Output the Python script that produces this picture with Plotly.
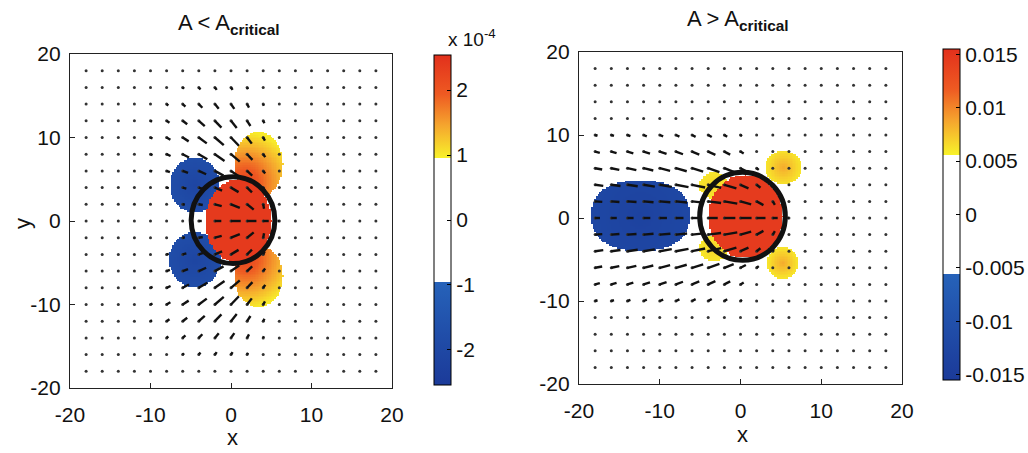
import numpy as np
import plotly.graph_objects as go

FONT = "Liberation Sans, Arial, sans-serif"

# ---------------- data ----------------
tick_vals = [-20, -10, 0, 10, 20]
tick_text = ["-20", "-10", "0", "10", "20"]
arrow_grid = [-18, -16, -14, -12, -10, -8, -6, -4, -2, 0, 2, 4, 6, 8, 10, 12, 14, 16, 18]

# left panel (values in units of 1e-4)
left_cbar_ticks = [-2, -1, 0, 1, 2]
left_cbar_text = ["-2", "-1", "0", "1", "2"]
left_zrange = [-2.54, 2.54]
left_white = [-0.96, 0.95]
# blobs: centre x, centre y, semi-axis x, semi-axis y, edge value, peak value, grad x, grad y, grad radius, shape exponent
left_blob_cx = [0.9, 3.4, 3.4, -4.5, -4.5]
left_blob_cy = [0.0, 6.8, -6.6, 4.3, -4.6]
left_blob_rx = [4.1, 3.0, 3.0, 3.1, 3.2]
left_blob_ry = [5.0, 3.9, 3.7, 3.3, 3.3]
left_blob_edge = [2.4, 1.0, 1.0, -1.6, -1.6]
left_blob_peak = [2.4, 2.3, 2.3, -2.1, -2.1]
left_blob_gx = [0.9, 1.8, 1.8, -4.5, -4.5]
left_blob_gy = [0.0, 4.6, -4.4, 4.3, -4.6]
left_blob_gr = [10.0, 6.0, 6.0, 5.0, 5.0]
left_blob_p = [2.0, 2.0, 2.0, 2.0, 2.0]
left_circle = [0.25, 0.1, 5.2]        # centre x, centre y, radius
# arrow field: ring focus x, envelope centre x, left width, right width, ring |y|, ring y width,
#              max length, core centre x, core radius, core weight, core focus x
left_flow = [10.0, -1.0, 7.0, 4.5, 9.0, 6.0, 1.5, 1.0, 4.0, 0.75, 4.0]

# right panel
right_cbar_ticks = [-0.015, -0.01, -0.005, 0, 0.005, 0.01, 0.015]
right_cbar_text = ["-0.015", "-0.01", "-0.005", "0", "0.005", "0.01", "0.015"]
right_zrange = [-0.0155, 0.0155]
right_white = [-0.0056, 0.0056]
right_blob_cx = [0.6, -12.4, -3.3, -3.3, 5.3, 5.2]
right_blob_cy = [0.2, 0.3, 3.9, -3.6, 6.1, -5.4]
right_blob_rx = [4.6, 6.1, 1.8, 1.8, 2.3, 1.9]
right_blob_ry = [5.0, 4.2, 1.6, 1.6, 2.0, 1.9]
right_blob_edge = [0.0145, -0.012, 0.006, 0.006, 0.006, 0.006]
right_blob_peak = [0.0145, -0.0135, 0.0068, 0.0068, 0.0085, 0.0085]
right_blob_gx = [0.6, -12.4, -3.3, -3.3, 5.3, 5.2]
right_blob_gy = [0.2, 0.3, 3.9, -3.6, 6.1, -5.4]
right_blob_gr = [10.0, 7.0, 2.0, 2.0, 2.3, 2.0]
right_blob_p = [2.0, 2.4, 2.0, 2.0, 2.0, 2.0]
right_circle = [0.25, 0.2, 5.3]
right_flow = [14.0, -4.0, 20.0, 4.5, 4.0, 5.5, 1.65, 1.0, 4.0, 0.6, 5.0]


# ---------------- build fields ----------------
gx = np.arange(-20, 20.001, 0.2)
GX, GY = np.meshgrid(gx, gx)


def field(cx, cy, rx, ry, edge, peak, gxs, gys, gr, pw):
    z = np.zeros_like(GX)
    for i in range(len(cx)):
        d = (np.abs(GX - cx[i]) / rx[i]) ** pw[i] + (np.abs(GY - cy[i]) / ry[i]) ** pw[i]
        inside = d <= 1
        g = np.clip(1 - np.hypot(GX - gxs[i], GY - gys[i]) / gr[i], 0, 1)
        val = edge[i] + (peak[i] - edge[i]) * g
        val = np.where(inside, val, 0)
        z = np.where(np.abs(val) > np.abs(z), val, z)
    return z


def arrows(flow):
    fx, ex, wl, wr, yo, wy, L, cx, cr, cw, cfx = flow
    sx, sy = [], []
    px, py = [], []
    for x in arrow_grid:
        for y in arrow_grid:
            w = wl if x < ex else wr
            m1 = np.exp(-((x - ex) / w) ** 2) * np.exp(-((abs(y) - yo) / wy) ** 2)
            a1 = np.arctan2(-y, fx - x)
            m2 = cw * np.exp(-((x - cx) ** 2 + y ** 2) / cr ** 2)
            a2 = np.arctan2(-y, cfx - x)
            u = m1 * np.cos(a1) + m2 * np.cos(a2)
            v = m1 * np.sin(a1) + m2 * np.sin(a2)
            m = np.hypot(u, v)
            if m > 1.0:
                u, v = u / m, v / m
                m = 1.0
            if L * m > 0.2:
                sx += [x, x + L * u, None]
                sy += [y, y + L * v, None]
            px.append(x)
            py.append(y)
    return sx, sy, px, py


def cscale(zr, wr):
    def t(v):
        return (v - zr[0]) / (zr[1] - zr[0])
    lo, hi = t(wr[0]), t(wr[1])
    span = 1 - hi
    return [
        [0.0, "#1b3a99"],
        [lo, "#2662b9"],
        [lo, "#ffffff"],
        [hi, "#ffffff"],
        [hi, "#f8f22a"],
        [hi + 0.32 * span, "#f5a52e"],
        [hi + 0.62 * span, "#ee5a22"],
        [1.0, "#e2301c"],
    ]


zl = field(left_blob_cx, left_blob_cy, left_blob_rx, left_blob_ry, left_blob_edge,
           left_blob_peak, left_blob_gx, left_blob_gy, left_blob_gr, left_blob_p)
zr = field(right_blob_cx, right_blob_cy, right_blob_rx, right_blob_ry, right_blob_edge,
           right_blob_peak, right_blob_gx, right_blob_gy, right_blob_gr, right_blob_p)

W, H = 1028, 453


def px2x(p):
    return p / W


def px2y(p):
    return 1 - p / H


fig = go.Figure()

cb_common = dict(thickness=17, thicknessmode="pixels", lenmode="fraction",
                 outlinewidth=1, outlinecolor="black", ticks="inside", ticklen=4,
                 tickcolor="black", tickfont=dict(size=21, family=FONT, color="#111"),
                 xanchor="left", yanchor="middle", xpad=0, ypad=0)

fig.add_trace(go.Heatmap(x=gx, y=gx, z=zl, zmin=left_zrange[0], zmax=left_zrange[1],
                         colorscale=cscale(left_zrange, left_white), xaxis="x", yaxis="y",
                         hoverinfo="skip",
                         colorbar=dict(x=px2x(434), y=px2y(220), len=330 / H,
                                       tickvals=left_cbar_ticks, ticktext=left_cbar_text,
                                       **cb_common)))
fig.add_trace(go.Heatmap(x=gx, y=gx, z=zr, zmin=right_zrange[0], zmax=right_zrange[1],
                         colorscale=cscale(right_zrange, right_white), xaxis="x2", yaxis="y2",
                         hoverinfo="skip",
                         colorbar=dict(x=px2x(943), y=px2y(214.5), len=331 / H,
                                       tickvals=right_cbar_ticks, ticktext=right_cbar_text,
                                       **cb_common)))

for flow, xa, ya in [(left_flow, "x", "y"), (right_flow, "x2", "y2")]:
    sx, sy, px, py = arrows(flow)
    fig.add_trace(go.Scatter(x=px, y=py, mode="markers", xaxis=xa, yaxis=ya,
                             marker=dict(size=3, color="#333"), hoverinfo="skip",
                             showlegend=False))
    fig.add_trace(go.Scatter(x=sx, y=sy, mode="lines", xaxis=xa, yaxis=ya,
                             line=dict(width=2.4, color="#111"), hoverinfo="skip",
                             showlegend=False))

for c, xr, yr in [(left_circle, "x", "y"), (right_circle, "x2", "y2")]:
    fig.add_shape(type="circle", xref=xr, yref=yr, x0=c[0] - c[2], x1=c[0] + c[2],
                  y0=c[1] - c[2], y1=c[1] + c[2], line=dict(color="#111", width=5))

ax_common = dict(range=[-20, 20], tickvals=tick_vals, ticktext=tick_text, showgrid=False,
                 zeroline=False, showline=True, mirror=True, linecolor="#222", linewidth=1.3,
                 ticks="inside", ticklen=5, tickcolor="#222",
                 tickfont=dict(size=21, family=FONT, color="#111"))

fig.update_layout(
    width=W, height=H, margin=dict(l=0, r=0, t=0, b=0, autoexpand=False),
    paper_bgcolor="white", plot_bgcolor="white", showlegend=False,
    xaxis=dict(domain=[px2x(70), px2x(392)], anchor="y", ticklabelstandoff=8, **ax_common),
    yaxis=dict(domain=[px2y(388), px2y(54)], anchor="x", ticklabelstandoff=4, **ax_common),
    xaxis2=dict(domain=[px2x(579), px2x(902)], anchor="y2", ticklabelstandoff=8, **ax_common),
    yaxis2=dict(domain=[px2y(384), px2y(52)], anchor="x2", ticklabelstandoff=4, **ax_common),
)

ann_font = dict(size=22, family=FONT, color="#111")


def label(xp, yp, text, **kw):
    fig.add_annotation(x=px2x(xp), y=px2y(yp), xref="paper", yref="paper", showarrow=False,
                       xanchor=kw.pop("xanchor", "center"), yanchor="middle", text=text,
                       font=kw.pop("font", ann_font), **kw)


label(229, 24, "A < A<sub><b>critical</b></sub>")
label(738, 20, "A > A<sub><b>critical</b></sub>")
label(232, 437, "x")
label(742, 434, "x")
label(22, 224, "y", textangle=-90)
label(446, 38, "x 10<sup>-4</sup>", xanchor="left",
      font=dict(size=19, family=FONT, color="#111"))

fig.write_html("out.html")
